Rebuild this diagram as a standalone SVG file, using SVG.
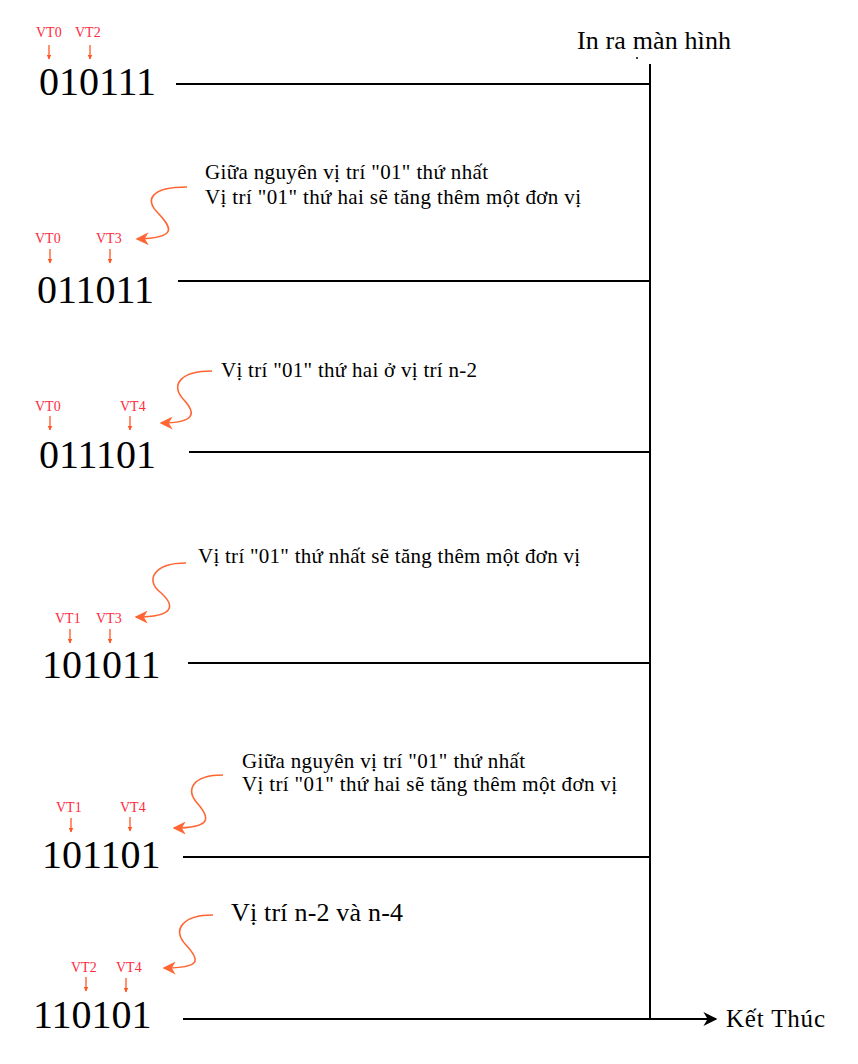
<svg xmlns="http://www.w3.org/2000/svg" width="858" height="1064" viewBox="0 0 858 1064">
<style>
text{font-family:'Liberation Serif','Times New Roman',serif}
.num{font-size:40px;fill:#000}
.vt{font-size:14px;fill:#ff2a40}
.note{font-size:21px;fill:#000}
.big{font-size:26px;fill:#000}
.line{stroke:#000;stroke-width:2;fill:none}
.small{stroke:#ff5722;stroke-width:1.3;fill:none;marker-end:url(#sa)}
.curve{stroke:#ff6633;stroke-width:1.6;fill:none;marker-end:url(#ca)}
</style>
<defs>
<marker id="sa" viewBox="0 0 10 10" refX="9" refY="5" markerWidth="5" markerHeight="5" orient="auto" markerUnits="userSpaceOnUse">
<path d="M0,0 L10,5 L0,10 z" fill="#ff5722"/>
</marker>
<marker id="ca" viewBox="0 0 10 10" refX="9" refY="5" markerWidth="13" markerHeight="13" orient="auto" markerUnits="userSpaceOnUse">
<path d="M0,0 L10,5 L0,10 L3,5 z" fill="#ff6633"/>
</marker>
<marker id="ba" viewBox="0 0 10 10" refX="9" refY="5" markerWidth="14" markerHeight="14" orient="auto" markerUnits="userSpaceOnUse">
<path d="M0,0 L10,5 L0,10 L3,5 z" fill="#000"/>
</marker>
</defs>

<g id="connectors">
<path class="line" d="M650,64 V1019"/>
<path class="line" d="M176,84 H650"/>
<path class="line" d="M178,281 H650"/>
<path class="line" d="M189,452 H650"/>
<path class="line" d="M188,663 H650"/>
<path class="line" d="M183,857 H650"/>
<path class="line" d="M183,1019 H716" marker-end="url(#ba)"/>
<path class="curve" d="M187,187 C150,187 145,200 158,213 C172,228 178,238 137,239"/>
<path class="curve" d="M212,371 C180,371 170,385 184,400 C196,413 196,423 161,423"/>
<path class="curve" d="M186,563 C154,563 145,580 160,592 C175,605 176,617 136,617"/>
<path class="curve" d="M223,775 C192,775 185,790 198,804 C210,818 212,828 174,828"/>
<path class="curve" d="M213,915 C182,915 172,930 186,945 C200,960 202,968 164,968"/>
</g>

<g id="header">
<text class="big" x="577" y="49" textLength="154">In ra màn hình</text>
<circle cx="637" cy="58" r="1" fill="#000"/>
</g>

<g id="row1">
<text class="num" x="39" y="95">010111</text>
<text class="vt" x="36" y="37">VT0</text>
<text class="vt" x="75" y="37">VT2</text>
<path class="small" d="M49,45 V59"/>
<path class="small" d="M90,45 V59"/>
</g>

<g id="row2">
<text class="note" x="205" y="179" textLength="283">Giữa nguyên vị trí  "01" thứ nhất</text>
<text class="note" x="205" y="204" textLength="376">Vị trí  "01" thứ hai sẽ tăng thêm một đơn vị</text>
<text class="num" x="37" y="303">011011</text>
<text class="vt" x="35" y="243">VT0</text>
<text class="vt" x="96" y="243">VT3</text>
<path class="small" d="M50,249 V263"/>
<path class="small" d="M110,249 V263"/>
</g>

<g id="row3">
<text class="note" x="221" y="377" textLength="256">Vị trí  "01" thứ hai ở vị trí n-2</text>
<text class="num" x="39" y="468">011101</text>
<text class="vt" x="35" y="411">VT0</text>
<text class="vt" x="120" y="411">VT4</text>
<path class="small" d="M50,416 V430"/>
<path class="small" d="M130,416 V430"/>
</g>

<g id="row4">
<text class="note" x="198" y="563" textLength="382">Vị trí "01" thứ nhất sẽ tăng thêm một đơn vị</text>
<text class="num" x="42" y="678">101011</text>
<text class="vt" x="55" y="623">VT1</text>
<text class="vt" x="96" y="623">VT3</text>
<path class="small" d="M70,629 V643"/>
<path class="small" d="M110,629 V643"/>
</g>

<g id="row5">
<text class="note" x="242" y="768" textLength="283">Giữa nguyên vị trí  "01" thứ nhất</text>
<text class="note" x="242" y="791" textLength="375">Vị trí "01"  thứ hai sẽ tăng thêm một đơn vị</text>
<text class="num" x="42" y="868">101101</text>
<text class="vt" x="56" y="812">VT1</text>
<text class="vt" x="120" y="812">VT4</text>
<path class="small" d="M71,818 V832"/>
<path class="small" d="M130,817 V831"/>
</g>

<g id="row6">
<text class="big" x="231" y="921" textLength="172">Vị trí n-2 và n-4</text>
<text class="num" x="33" y="1028">110101</text>
<text class="vt" x="71" y="972">VT2</text>
<text class="vt" x="116" y="972">VT4</text>
<path class="small" d="M86,977 V991"/>
<path class="small" d="M126,978 V992"/>
</g>

<g id="end">
<text class="big" x="726" y="1027" style="font-size:25px" textLength="99">Kết Thúc</text>
</g>
</svg>
